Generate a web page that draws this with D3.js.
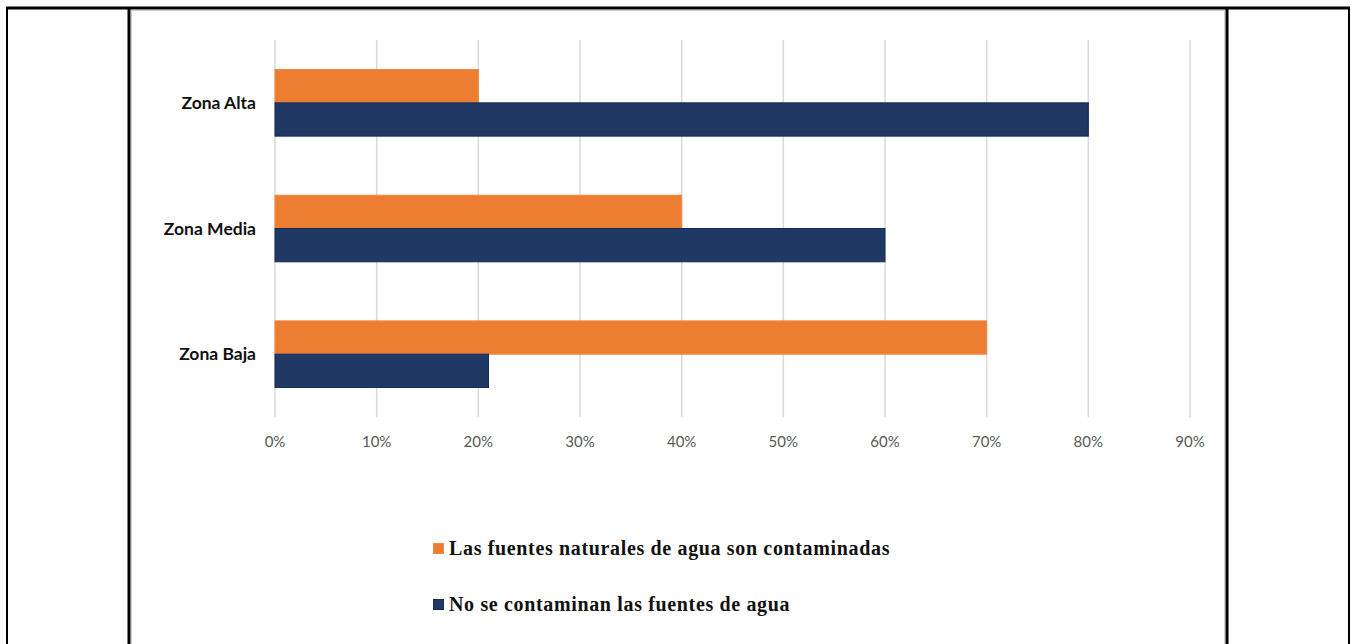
<!DOCTYPE html>
<html lang="es">
  <head>
    <meta charset="utf-8">
    <title>Contaminación de fuentes de agua</title>
    <style>
    body {
        margin: 0;
        background: #fff;
    }
    .cat {
        font-family: Lato, "Open Sans", sans-serif;
        font-weight: 700;
        font-size: 17.5px;
        fill: #111;
    }
    .tick-label {
        font-family: Lato, "Open Sans", sans-serif;
        font-size: 15px;
        fill: #595959;
    }
    .legend text {
        font-family: "Liberation Serif", "DejaVu Serif", serif;
        font-weight: 700;
        font-size: 20px;
        fill: #111;
    }
    </style>
  </head>
  <body>
    <div id="chart"></div>

    <script src="https://d3js.org/d3.v7.min.js"></script>
    <script>
    // datos
    var zonas = ['Zona Alta', 'Zona Media', 'Zona Baja'];
    var series = ['Las fuentes naturales de agua son contaminadas', 'No se contaminan las fuentes de agua'];
    var contaminadas = [0.20, 0.40, 0.70];
    var noContaminan = [0.80, 0.60, 0.21];
    var ticks = [0, 0.1, 0.2, 0.3, 0.4, 0.5, 0.6, 0.7, 0.8, 0.9];
    var colores = ['#ED7D31', '#203864'];
    var bordes = ['#F08A45', '#162B57'];

    var width = 1351;
    var height = 644;

    var svg = d3.select('#chart')
        .append('svg')
        .attr('width', width)
        .attr('height', height);

    // marco de la tabla
    var frame = svg.append('g')
        .attr('fill', 'none')
        .attr('stroke', '#000');
    frame.append('line').attr('x1', 6).attr('x2', 1350).attr('y1', 8).attr('y2', 8).attr('stroke-width', 3);
    frame.append('line').attr('x1', 7).attr('x2', 7).attr('y1', 8).attr('y2', height).attr('stroke-width', 2);
    frame.append('line').attr('x1', 129).attr('x2', 129).attr('y1', 8).attr('y2', height).attr('stroke-width', 3);
    frame.append('line').attr('x1', 1227).attr('x2', 1227).attr('y1', 8).attr('y2', height).attr('stroke-width', 3);
    frame.append('line').attr('x1', 1349).attr('x2', 1349).attr('y1', 8).attr('y2', height).attr('stroke-width', 2);
    // borde gris del área del gráfico
    svg.append('rect')
        .attr('x', 131.5).attr('y', 10.5)
        .attr('width', 1093).attr('height', height)
        .attr('fill', 'none')
        .attr('stroke', '#d0d0d0');

    var x = d3.scaleLinear()
        .domain([0, 0.9])
        .range([275, 1190]);

    var y = d3.scaleBand()
        .domain(zonas)
        .range([40, 417])
        .paddingInner(0.47)
        .paddingOuter(0.235);

    var ySerie = d3.scaleBand()
        .domain(series)
        .range([0, y.bandwidth()]);

    // líneas de cuadrícula
    svg.append('g')
        .selectAll('line')
        .data(ticks)
        .enter()
        .append('line')
        .attr('x1', function(d) { return x(d); })
        .attr('x2', function(d) { return x(d); })
        .attr('y1', 40)
        .attr('y2', 417)
        .attr('stroke', '#d9d9d9')
        .attr('stroke-width', 1.5);

    svg.append('g')
        .selectAll('text')
        .data(ticks)
        .enter()
        .append('text')
        .attr('class', 'tick-label')
        .attr('x', function(d) { return x(d); })
        .attr('y', 447)
        .attr('text-anchor', 'middle')
        .text(d3.format('.0%'));

    var filas = zonas.map(function(z, i) {
        return [contaminadas[i], noContaminan[i]];
    });

    var grupos = svg.append('g')
        .selectAll('g')
        .data(filas)
        .enter()
        .append('g')
        .attr('transform', function(d, i) { return 'translate(0,' + y(zonas[i]) + ')'; });

    grupos.selectAll('rect')
        .data(function(d) { return d; })
        .enter()
        .append('rect')
        .attr('x', x(0))
        .attr('y', function(d, j) { return ySerie(series[j]); })
        .attr('width', function(d) { return x(d) - x(0); })
        .attr('height', ySerie.bandwidth())
        .attr('fill', function(d, j) { return colores[j]; })
        .attr('stroke', function(d, j) { return bordes[j]; })
        .attr('stroke-width', 1);

    svg.append('g')
        .selectAll('text')
        .data(zonas)
        .enter()
        .append('text')
        .attr('class', 'cat')
        .attr('x', 256)
        .attr('y', function(d) { return y(d) + y.bandwidth() / 2 + 6; })
        .attr('text-anchor', 'end')
        .text(function(d) { return d; });

    // leyenda
    var legend = svg.selectAll('.legend')
        .data(series)
        .enter()
        .append('g')
        .attr('class', 'legend')
        .attr('transform', function(d, i) { return 'translate(433,' + (543 + i * 56) + ')'; });

    legend.append('rect')
        .attr('x', 0.5).attr('y', 0.5)
        .attr('width', 10)
        .attr('height', 10)
        .attr('fill', function(d, i) { return colores[i]; })
        .attr('stroke', function(d, i) { return bordes[i]; });

    legend.append('text')
        .attr('x', 16)
        .attr('y', 12)
        .attr('letter-spacing', 0.65)
        .text(function(d) { return d; });
    </script>
  </body>
</html>
